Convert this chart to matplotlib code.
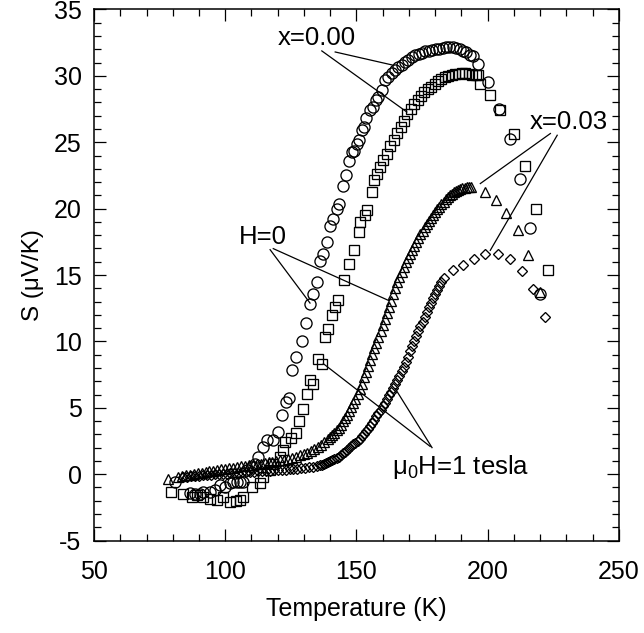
import matplotlib
matplotlib.use("Agg")
import matplotlib.pyplot as plt
from matplotlib.ticker import MultipleLocator

plt.rcParams['font.family'] = ['Liberation Sans', 'DejaVu Sans']
plt.rcParams['mathtext.fontset'] = 'custom'
plt.rcParams['mathtext.rm'] = 'Liberation Sans'
plt.rcParams['mathtext.it'] = 'Liberation Sans:italic'
plt.rcParams['axes.unicode_minus'] = False

# x = 0.00, H = 0 (circles)
T_x000_H0 = [80.8, 86.5, 88.4, 90.3, 91.6, 94.2, 96.1, 98.0, 99.9, 101.8, 103.1, 104.4, 105.6, 106.9,
             108.2, 110.1, 111.3, 112.6, 114.5, 115.8, 118.3, 120.1, 121.8, 123.1, 124.3, 125.6, 127.0,
             129.2, 130.8, 132.3, 133.6, 134.9, 136.1, 137.2, 138.7, 140.0, 141.0, 142.5, 143.5, 144.8,
             146.0, 147.2, 148.2, 148.9, 150.2, 150.8, 152.1, 152.9, 153.7, 155.0, 156.3, 157.5, 158.4,
             159.7, 161.0, 162.2, 163.5, 164.8, 166.0, 167.3, 168.6, 169.8, 171.1, 172.4, 173.7, 175.0,
             176.3, 177.6, 178.9, 180.2, 181.5, 182.8, 184.1, 185.4, 186.7, 188.0, 189.3, 190.6, 191.9,
             193.2, 194.5, 196.2, 200.0, 204.2, 208.4, 212.2, 216.3, 220.1]
S_x000_H0 = [-0.6, -1.43, -1.47, -1.47, -1.35, -1.35, -1.22, -0.85, -0.98, -0.67, -0.6, -0.6, -0.6, -0.6,
             0.28, 0.53, 0.79, 1.29, 2.04, 2.55, 2.54, 3.15, 4.48, 5.43, 5.73, 7.87, 8.82,
             10.03, 11.4, 12.84, 13.55, 14.47, 16.03, 16.56, 17.49, 18.67, 19.25, 20.0, 20.33, 21.71,
             22.51, 23.57, 24.27, 24.34, 24.9, 25.15, 25.9, 26.15, 26.86, 27.41, 27.62, 28.17, 28.41,
             28.97, 29.67, 29.92, 30.18, 30.43, 30.67, 30.8, 31.05, 31.23, 31.43, 31.55, 31.68, 31.75,
             31.85, 31.9, 31.93, 32.0, 32.05, 32.1, 32.15, 32.18, 32.15, 32.1, 32.0, 31.9, 31.8,
             31.6, 31.5, 30.88, 29.54, 27.54, 25.28, 22.27, 18.57, 13.6]

# x = 0.00, mu0H = 1 tesla (squares)
T_x000_H1 = [79.5, 84.0, 87.2, 89.1, 91.6, 94.2, 96.7, 99.2, 101.8, 104.0, 105.6, 106.9, 110.1, 113.2,
             114.5, 117.1, 118.3, 120.9, 121.9, 122.8, 125.0, 127.0, 128.2, 129.5, 131.1, 132.3, 133.6,
             135.5, 136.8, 138.1, 139.3, 140.6, 141.9, 143.1, 145.3, 147.3, 148.9, 150.8, 151.4, 153.3,
             154.0, 155.9, 156.5, 157.8, 159.0, 160.3, 161.6, 162.9, 164.2, 165.5, 166.8, 168.1, 169.4,
             170.7, 172.0, 173.3, 174.6, 175.9, 177.2, 178.5, 179.8, 181.1, 182.4, 183.7, 185.0, 186.3,
             187.6, 188.9, 190.2, 191.5, 192.8, 194.1, 195.4, 196.5, 197.2, 200.8, 204.8, 209.9, 214.1,
             218.6, 222.9]
S_x000_H1 = [-1.35, -1.47, -1.73, -1.6, -1.73, -1.85, -1.98, -1.73, -2.11, -2.0, -1.98, -1.73, -0.98, -0.67,
             -0.22, 0.28, 0.79, 1.28, 1.79, 2.42, 2.75, 3.09, 4.0, 4.93, 6.06, 7.12, 6.82,
             8.7, 8.32, 10.33, 10.96, 11.96, 12.59, 13.09, 14.6, 15.86, 16.91, 18.24, 19.0, 19.5,
             19.93, 21.26, 22.14, 22.64, 23.14, 23.7, 24.15, 24.7, 25.15, 25.7, 26.15, 26.6, 27.1,
             27.5, 27.9, 28.2, 28.5, 28.8, 29.0, 29.2, 29.4, 29.6, 29.75, 29.9, 30.0, 30.1,
             30.15, 30.15, 30.2, 30.2, 30.15, 30.1, 30.05, 30.05, 29.42, 28.59, 27.41, 25.66, 23.19,
             20.0, 15.35]

# x = 0.03, H = 0 (triangles)
T_x003_H0 = [78.0, 82.0, 83.5, 85.0, 86.5, 88.0, 89.5, 91.0, 92.5, 94.0, 95.5, 97.0, 98.5, 100.0, 101.5,
             103.0, 104.5, 106.0, 107.5, 109.0, 110.5, 112.0, 113.5, 115.0, 116.5, 118.0, 119.5, 121.0,
             122.5, 124.0, 125.5, 127.0, 128.5, 130.0, 131.3, 132.6, 133.9, 135.2, 136.5, 137.8, 139.1,
             140.0, 140.8, 141.6, 142.4, 143.2, 144.0, 144.8, 145.6, 146.4, 147.2, 148.0, 148.8, 149.6,
             150.4, 151.2, 152.0, 152.8, 153.6, 154.4, 155.2, 156.0, 156.8, 157.6, 158.4, 159.2, 160.0,
             160.8, 161.6, 162.4, 163.2, 164.0, 164.8, 165.6, 166.4, 167.2, 168.0, 168.8, 169.6, 170.4,
             171.2, 172.0, 172.8, 173.6, 174.4, 175.2, 176.0, 176.8, 177.6, 178.4, 179.2, 180.0, 180.8,
             181.6, 182.4, 183.2, 184.0, 184.8, 185.6, 186.4, 187.2, 188.0, 188.8, 189.6, 190.4, 191.2,
             192.0, 192.8, 193.6,
             199.1, 203.2, 207.1, 211.4, 215.4, 219.8]
S_x003_H0 = [-0.34, -0.2, -0.15, -0.09, -0.03, 0.02, 0.07, 0.12, 0.17, 0.22, 0.27, 0.32, 0.37, 0.42, 0.46,
             0.5, 0.55, 0.6, 0.64, 0.68, 0.72, 0.76, 0.8, 0.85, 0.9, 0.95, 1.0, 1.05,
             1.1, 1.17, 1.25, 1.33, 1.42, 1.52, 1.62, 1.74, 1.87, 2.02, 2.2, 2.4, 2.62,
             2.8, 2.96, 3.13, 3.3, 3.5, 3.74, 3.97, 4.22, 4.48, 4.77, 5.07, 5.37, 5.7,
             6.04, 6.4, 6.82, 7.3, 7.7, 8.15, 8.6, 9.05, 9.48, 9.9, 10.35, 10.8, 11.22,
             11.68, 12.15, 12.62, 13.08, 13.55, 14.0, 14.45, 14.85, 15.25, 15.6, 15.95, 16.28, 16.6,
             16.92, 17.22, 17.52, 17.8, 18.07, 18.33, 18.6, 18.85, 19.06, 19.28, 19.5, 19.75, 19.95,
             20.15, 20.35, 20.53, 20.7, 20.87, 21.0, 21.12, 21.23, 21.32, 21.4, 21.47, 21.52, 21.56,
             21.6, 21.62, 21.62,
             21.26, 20.63, 19.67, 18.37, 16.48, 13.72]

# x = 0.03, mu0H = 1 tesla (diamonds)
T_x003_H1 = [84.0, 85.5, 87.0, 88.5, 90.0, 91.5, 93.0, 94.5, 96.0, 97.5, 99.0, 100.5, 102.0, 103.5,
             105.0, 106.5, 108.0, 109.5, 111.0, 112.5, 114.0, 115.5, 117.0, 118.5, 120.0, 121.5, 123.0,
             124.5, 126.0, 127.5, 129.0, 130.5, 132.0, 133.5, 135.0,
             136.0, 136.8, 137.6, 138.4, 139.2, 140.0, 140.8, 141.6, 142.4, 143.2, 144.0, 144.8, 145.6,
             146.4, 147.2, 148.0, 148.8, 149.6, 150.4, 151.2, 152.0, 152.8, 153.6, 154.4, 155.2, 156.0,
             156.8, 157.6, 158.4, 159.2, 160.0, 160.8, 161.6, 162.4, 163.2, 164.0, 164.8, 165.6, 166.4,
             167.2, 168.0, 168.8, 169.6, 170.4, 171.2, 172.0, 172.8, 173.6, 174.4, 175.2, 176.0, 176.8,
             177.6, 178.4, 179.2, 180.0, 180.8, 181.6, 182.4, 183.2,
             186.8, 190.6, 194.7, 199.1, 203.8, 208.4, 212.9, 217.3, 222.0]
S_x003_H1 = [-0.2, -0.18, -0.16, -0.13, -0.1, -0.08, -0.06, -0.03, -0.01, 0.01, 0.03, 0.05, 0.07, 0.09,
             0.11, 0.13, 0.15, 0.17, 0.19, 0.21, 0.23, 0.25, 0.27, 0.29, 0.3, 0.32, 0.34,
             0.36, 0.38, 0.41, 0.44, 0.47, 0.51, 0.55, 0.6,
             0.66, 0.71, 0.76, 0.82, 0.89, 0.96, 1.04, 1.12, 1.22, 1.32, 1.44, 1.57, 1.7,
             1.83, 1.96, 2.1, 2.24, 2.38, 2.52, 2.68, 2.85, 3.03, 3.23, 3.44, 3.65, 3.88,
             4.11, 4.35, 4.59, 4.84, 5.1, 5.38, 5.66, 5.94, 6.22, 6.5, 6.8, 7.11, 7.43,
             7.75, 8.1, 8.46, 8.84, 9.25, 9.65, 10.05, 10.41, 10.77, 11.13, 11.49, 11.85, 12.21,
             12.57, 12.93, 13.28, 13.6, 13.88, 14.16, 14.44, 14.75,
             15.41, 15.73, 16.24, 16.61, 16.61, 16.24, 15.3, 13.97, 11.84]

fig = plt.figure(figsize=(6.44, 6.33), dpi=100)
ax = fig.add_axes([0.146, 0.146, 0.815, 0.839])

mk = dict(linestyle='none', mfc='none', mec='black', mew=0.95)
ax.plot(T_x000_H0, S_x000_H0, marker='o', ms=8.0, **mk)
ax.plot(T_x000_H1, S_x000_H1, marker='s', ms=7.6, **mk)
ax.plot(T_x003_H0, S_x003_H0, marker='^', ms=7.4, **mk)
ax.plot(T_x003_H1, S_x003_H1, marker='D', ms=5.4, **mk)

ax.set_xlim(50, 250)
ax.set_ylim(-5, 35)
ax.xaxis.set_major_locator(MultipleLocator(50))
ax.xaxis.set_minor_locator(MultipleLocator(10))
ax.yaxis.set_major_locator(MultipleLocator(5))
ax.yaxis.set_minor_locator(MultipleLocator(1))
ax.tick_params(which='both', direction='in', top=True, right=True, width=0.9, labelsize=18)
ax.tick_params(which='major', length=8.4)
ax.tick_params(which='minor', length=4.8)
ax.tick_params(axis='x', which='major', pad=14)
ax.tick_params(axis='y', which='major', pad=9)
for sp in ax.spines.values():
    sp.set_linewidth(1.1)

ax.set_xlabel('Temperature (K)', fontsize=18, labelpad=9)
ax.set_ylabel('S (μV/K)', fontsize=17.5, labelpad=7)

lw = 0.9
fs = 18.5
# x=0.00 label
ax.text(135.0, 32.84, 'x=0.00', fontsize=fs, ha='center', va='center')
ax.plot([136.8, 169.2], [31.88, 27.28], color='black', lw=lw)
ax.plot([141.9, 164.1], [31.80, 30.80], color='black', lw=lw)
# H=0 label
ax.text(114.4, 17.85, 'H=0', fontsize=fs, ha='center', va='center')
ax.plot([117.1, 132.3], [16.91, 12.89], color='black', lw=lw)
ax.plot([118.3, 162.2], [16.99, 13.09], color='black', lw=lw)
# x=0.03 label
ax.text(231.0, 26.5, 'x=0.03', fontsize=fs, ha='center', va='center')
ax.plot([223.9, 197.2], [25.66, 21.89], color='black', lw=lw)
ax.plot([226.5, 201.0], [25.53, 16.86], color='black', lw=lw)
# mu0H = 1 tesla label
ax.text(189.6, 0.51, 'μ$_\\mathregular{0}$H=1 tesla', fontsize=fs, ha='center', va='center')
ax.plot([178.1, 137.4], [2.09, 8.32], color='black', lw=lw)
ax.plot([178.8, 164.8], [2.00, 6.44], color='black', lw=lw)

fig.savefig('out.png', dpi=100)
